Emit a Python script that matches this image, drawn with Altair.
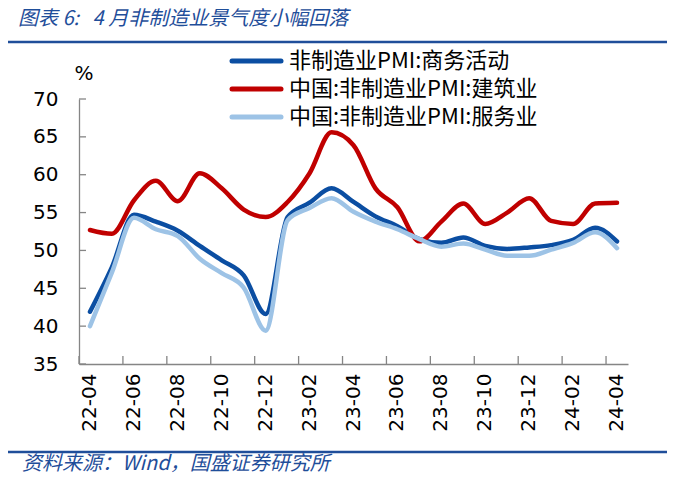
import altair as alt
import pandas as pd

# ---------------- data ----------------
months = ["22-04", "22-05", "22-06", "22-07", "22-08", "22-09", "22-10", "22-11",
          "22-12", "23-01", "23-02", "23-03", "23-04", "23-05", "23-06", "23-07",
          "23-08", "23-09", "23-10", "23-11", "23-12", "24-01", "24-02", "24-03", "24-04"]
business = [41.9, 47.8, 54.7, 53.8, 52.6, 50.6, 48.7, 46.7, 41.6, 54.4, 56.3, 58.2, 56.4,
            54.5, 53.2, 51.5, 51.0, 51.7, 50.6, 50.2, 50.4, 50.7, 51.4, 53.0, 51.2]
construction = [52.7, 52.2, 56.6, 59.2, 56.5, 60.2, 58.2, 55.4, 54.4, 56.4, 60.2, 65.6, 63.9,
                58.2, 55.7, 51.2, 53.8, 56.2, 53.5, 55.0, 56.9, 53.9, 53.5, 56.2, 56.3]
services = [40.0, 47.1, 54.3, 52.8, 51.9, 48.9, 47.0, 45.1, 39.4, 54.0, 55.6, 56.9, 55.1,
            53.8, 52.8, 51.5, 50.5, 50.9, 50.1, 49.3, 49.3, 50.1, 51.0, 52.4, 50.3]
series_names = ["非制造业PMI:商务活动", "中国:非制造业PMI:建筑业", "中国:非制造业PMI:服务业"]
series_values = [business, construction, services]
y_ticks = [35, 40, 45, 50, 55, 60, 65, 70]
x_label_months = months[::2]
title_text = "图表\u00a06:\u00a0\u00a0\u00a04\u00a0月非制造业景气度小幅回落"
source_text = "资料来源：Wind，国盛证券研究所"

# ---------------- styles ----------------
colors = ["#0B4EA2", "#C00000", "#9DC3E6"]
W, H = 549, 265
NUM_FONT = "DejaVu Sans"
CJK_FONT = "Noto Sans CJK SC"
BLUE_TXT = "#1F4E9A"
AXIS_GREY = "#858585"

df = pd.DataFrame({
    "month": months * 3,
    "series": sum([[n] * len(months) for n in series_names], []),
    "value": sum(series_values, []),
})

xscale = alt.Scale(type="band", domain=months, paddingInner=0, paddingOuter=0)
yscale = alt.Scale(domain=[35, 70], zero=False, nice=False)

xaxis = alt.Axis(values=x_label_months, ticks=False, labelAngle=-90, labelPadding=9,
                 labelFont=NUM_FONT, labelFontSize=20, labelColor="black",
                 domainColor=AXIS_GREY, domainWidth=1.3, title=None, grid=False,
                 labelOverlap=False)
yaxis = alt.Axis(values=y_ticks, ticks=False, labelPadding=21, labelFont=NUM_FONT,
                 labelFontSize=20, labelColor="black", domainColor=AXIS_GREY,
                 domainWidth=1.3, title=None, grid=False)

X = alt.X("month:O", scale=xscale, axis=xaxis)
Y = alt.Y("value:Q", scale=yscale, axis=yaxis)

layers = []

# inward tick marks
xt = pd.DataFrame({"month": x_label_months})
layers.append(alt.Chart(xt).mark_rule(color=AXIS_GREY, strokeWidth=1.3).encode(
    x=alt.X("month:O", scale=xscale, axis=xaxis, bandPosition=0),
    y=alt.value(H - 8), y2=alt.value(H)))
yt = pd.DataFrame({"value": y_ticks})
layers.append(alt.Chart(yt).mark_rule(color=AXIS_GREY, strokeWidth=1.3).encode(
    y=Y, x=alt.value(0), x2=alt.value(7)))

# series lines
for name, col in zip(series_names, colors):
    layers.append(alt.Chart(df).transform_filter(alt.datum.series == name).mark_line(
        interpolate="monotone", strokeWidth=4.5, color=col, strokeCap="round",
        strokeJoin="round").encode(x=X, y=Y))

# manual legend
legend_y = [-38, -10, 18]
for name, col, ly in zip(series_names, colors, legend_y):
    layers.append(alt.Chart(pd.DataFrame({"t": [name]})).mark_rule(
        color=col, strokeWidth=5, strokeCap="round").encode(
        x=alt.value(153), x2=alt.value(202), y=alt.value(ly)))
    layers.append(alt.Chart(pd.DataFrame({"t": [name]})).mark_text(
        align="left", baseline="middle", font=CJK_FONT, fontSize=22, color="black").encode(
        text="t:N", x=alt.value(210), y=alt.value(ly)))

# "%" unit label
layers.append(alt.Chart(pd.DataFrame({"t": ["%"]})).mark_text(
    align="center", baseline="middle", font=NUM_FONT, fontSize=20, color="black").encode(
    text="t:N", x=alt.value(5), y=alt.value(-25)))

# title and source with rules
layers.append(alt.Chart(pd.DataFrame({"t": [title_text]})).mark_text(
    align="left", baseline="alphabetic", font=CJK_FONT, fontSize=20, fontStyle="italic",
    color=BLUE_TXT).encode(text="t:N", x=alt.value(-61), y=alt.value(-74)))
layers.append(alt.Chart(pd.DataFrame({"t": ["a"]})).mark_rule(
    color=BLUE_TXT, strokeWidth=2.5).encode(x=alt.value(-72), x2=alt.value(588), y=alt.value(-57)))
layers.append(alt.Chart(pd.DataFrame({"t": ["b"]})).mark_rule(
    color=BLUE_TXT, strokeWidth=2.5).encode(x=alt.value(-72), x2=alt.value(588), y=alt.value(353)))
layers.append(alt.Chart(pd.DataFrame({"t": [source_text]})).mark_text(
    align="left", baseline="middle", font=CJK_FONT, fontSize=20, fontStyle="italic",
    color=BLUE_TXT).encode(text="t:N", x=alt.value(-57), y=alt.value(365)))

chart = alt.layer(*layers).properties(
    width=W, height=H,
    autosize=alt.AutoSizeParams(type="none"),
    padding={"left": 71, "top": 91, "right": 60, "bottom": 116},
    background="white",
).configure_view(stroke=None)

chart.save("out.html", embed_options={"renderer": "svg", "actions": False})
